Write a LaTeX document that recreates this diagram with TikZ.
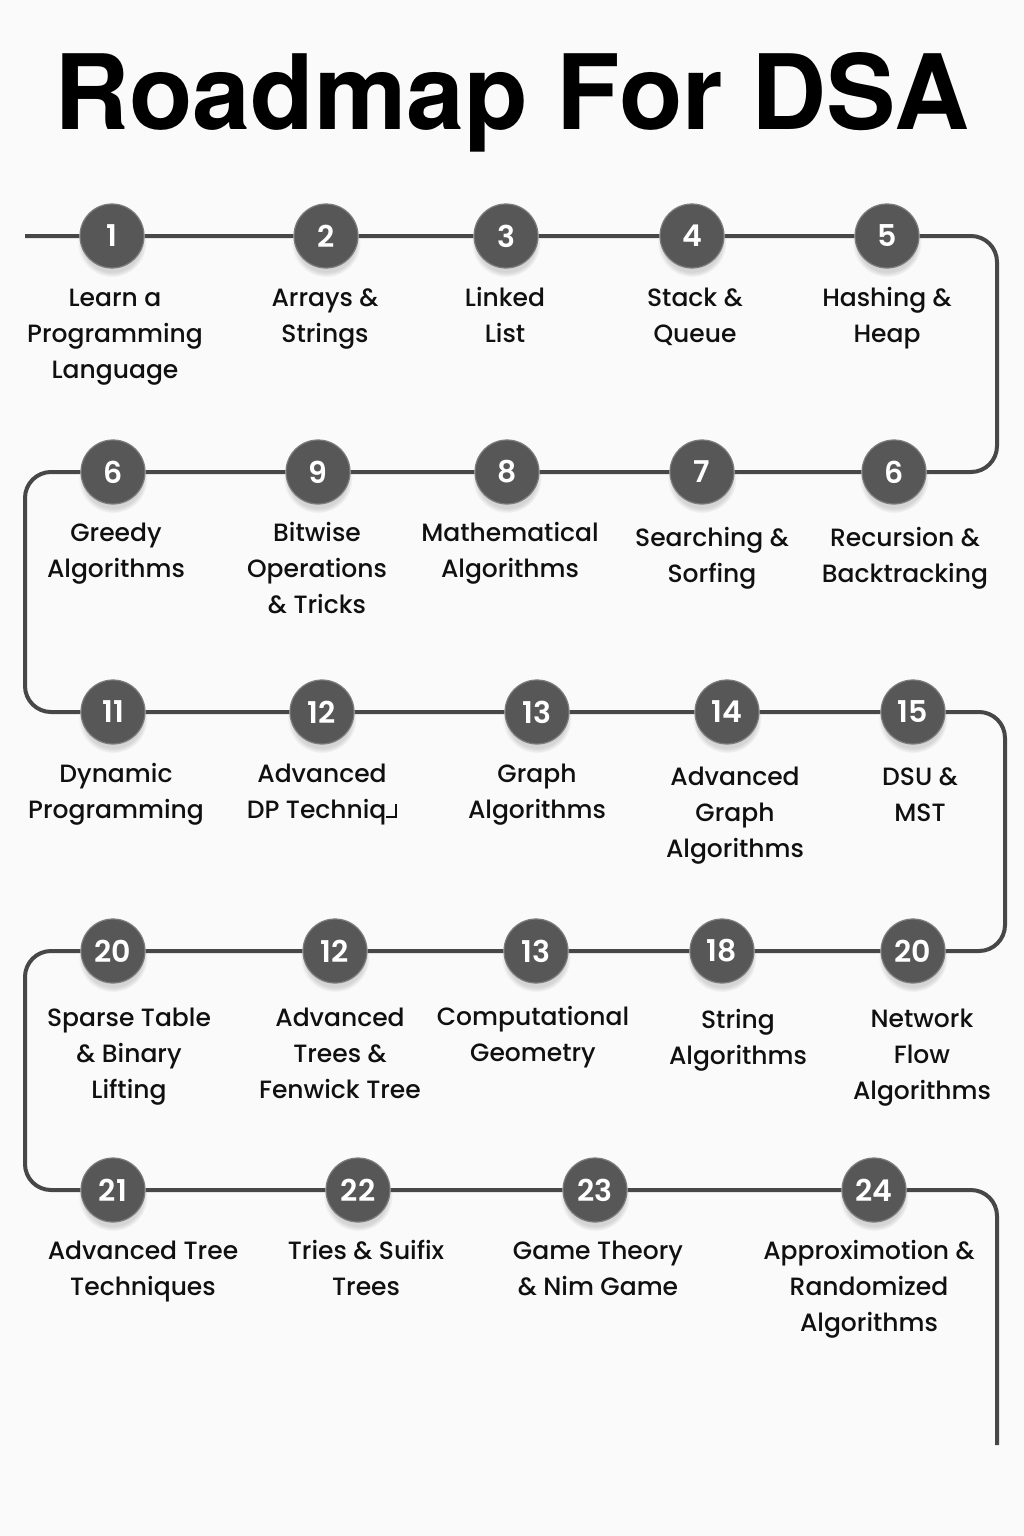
\documentclass[tikz,border=0pt]{standalone}
\usepackage{fontspec}
\setmainfont{Poppins Medium}
\newfontfamily\numfont{Poppins SemiBold}
\newfontfamily\headfont{TeX Gyre Heros}
\usetikzlibrary{backgrounds,shadows}

\definecolor{pathgray}{HTML}{474747}
\definecolor{dotfill}{HTML}{575757}
\definecolor{dotrim}{HTML}{7C7C7C}
\definecolor{ink}{HTML}{101010}
\definecolor{paper}{HTML}{FAFAFA}

% the odd closing glyph after "Techniq"
\newcommand\tailglyph{\rule{0.34em}{0.09em}\rule{0.09em}{0.58em}}

\tikzset{
  stepdot/.style={circle, minimum size=64pt, inner sep=0pt, fill=dotfill,
    draw=dotrim, line width=1.2pt, text=white,
    font=\numfont\fontsize{30}{30}\selectfont,
    circular drop shadow={shadow xshift=0pt, shadow yshift=-6pt,
      shadow scale=1.08, opacity=0.3}},
  % anchored at the baseline of the last line
  steplabel/.style={align=center, text=ink, inner sep=0pt, anchor=base,
    font=\fontsize{25}{36}\selectfont},
  road/.style={draw=pathgray, line width=4pt, rounded corners=26pt},
}

\begin{document}
\begin{tikzpicture}[x=1pt,y=-1pt]
  \useasboundingbox (0,0) rectangle (1024,1536);

  % heading
  \node[font=\headfont\bfseries\fontsize{104}{104}\selectfont, text=black,
        anchor=base, inner sep=0pt] (title) at (512,130) {Roadmap For DSA};

  % turning points of the road
  \coordinate (start) at (25,236);
  \coordinate (c1) at (997,236);
  \coordinate (c2) at (997,472);
  \coordinate (c3) at (25,472);
  \coordinate (c4) at (25,712);
  \coordinate (c5) at (1005,712);
  \coordinate (c6) at (1005,951);
  \coordinate (c7) at (25,951);
  \coordinate (c8) at (25,1190);
  \coordinate (c9) at (997,1190);
  \coordinate (finish) at (997,1445);

  % row 1
  \node[stepdot] (p1) at (112,236) {1};
  \node[stepdot] (p2) at (326,236) {2};
  \node[stepdot] (p3) at (506,236) {3};
  \node[stepdot] (p4) at (692,236) {4};
  \node[stepdot] (p5) at (887,236) {5};
  % row 2
  \node[stepdot] (p6) at (894,472) {6};
  \node[stepdot] (p7) at (702,472) {7};
  \node[stepdot] (p8) at (507,472) {8};
  \node[stepdot] (p9) at (318,472) {9};
  \node[stepdot] (p10) at (113,472) {6};
  % row 3
  \node[stepdot] (p11) at (113,712) {11};
  \node[stepdot] (p12) at (322,712) {12};
  \node[stepdot] (p13) at (537,712) {13};
  \node[stepdot] (p14) at (727,712) {14};
  \node[stepdot] (p15) at (913,712) {15};
  % row 4
  \node[stepdot] (p16) at (913,951) {20};
  \node[stepdot] (p17) at (722,951) {18};
  \node[stepdot] (p18) at (536,951) {13};
  \node[stepdot] (p19) at (335,951) {12};
  \node[stepdot] (p20) at (113,951) {20};
  % row 5
  \node[stepdot] (p21) at (113,1190) {21};
  \node[stepdot] (p22) at (358,1190) {22};
  \node[stepdot] (p23) at (595,1190) {23};
  \node[stepdot] (p24) at (874,1190) {24};

  % paper and the road behind the steps
  \begin{scope}[on background layer]
    \fill[paper] (0,0) rectangle (1024,1536);
    \draw[road] (start) -- (p1) -- (p2) -- (p3) -- (p4) -- (p5) -- (c1) -- (c2)
      -- (p6) -- (p7) -- (p8) -- (p9) -- (p10) -- (c3) -- (c4)
      -- (p11) -- (p12) -- (p13) -- (p14) -- (p15) -- (c5) -- (c6)
      -- (p16) -- (p17) -- (p18) -- (p19) -- (p20) -- (c7) -- (c8)
      -- (p21) -- (p22) -- (p23) -- (p24) -- (c9) -- (finish);
  \end{scope}

  % captions
  \node[steplabel] (l1) at (115,378) {Learn a\\Programming\\Language};
  \node[steplabel] (l2) at (325,342) {Arrays \&\\Strings};
  \node[steplabel] (l3) at (505,342) {Linked\\List};
  \node[steplabel] (l4) at (695,342) {Stack \&\\Queue};
  \node[steplabel] (l5) at (887,342) {Hashing \&\\Heap};

  \node[steplabel] (l10) at (116,577) {Greedy\\Algorithms};
  \node[steplabel] (l9) at (317,613) {Bitwise\\Operations\\\& Tricks};
  \node[steplabel] (l8) at (510,577) {Mathematical\\Algorithms};
  \node[steplabel] (l7) at (712,582) {Searching \&\\Sorfing};
  \node[steplabel] (l6) at (905,582) {Recursion \&\\Backtracking};

  \node[steplabel] (l11) at (116,818) {Dynamic\\Programming};
  \node[steplabel] (l12) at (322,818) {Advanced\\DP Techniq\tailglyph};
  \node[steplabel] (l13) at (537,818) {Graph\\Algorithms};
  \node[steplabel] (l14) at (735,857) {Advanced\\Graph\\Algorithms};
  \node[steplabel] (l15) at (920,821) {DSU \&\\MST};

  \node[steplabel] (l20) at (129,1098) {Sparse Table\\\& Binary\\Lifting};
  \node[steplabel] (l19) at (340,1098) {Advanced\\Trees \&\\Fenwick Tree};
  \node[steplabel] (l18) at (533,1061) {Computational\\Geometry};
  \node[steplabel] (l17) at (738,1064) {String\\Algorithms};
  \node[steplabel] (l16) at (922,1099) {Network\\Flow\\Algorithms};

  \node[steplabel] (l21) at (143,1295) {Advanced Tree\\Techniques};
  \node[steplabel] (l22) at (366,1295) {Tries \& Suifix\\Trees};
  \node[steplabel] (l23) at (598,1295) {Game Theory\\\& Nim Game};
  \node[steplabel] (l24) at (869,1331) {Approximotion \&\\Randomized\\Algorithms};
\end{tikzpicture}
\end{document}
